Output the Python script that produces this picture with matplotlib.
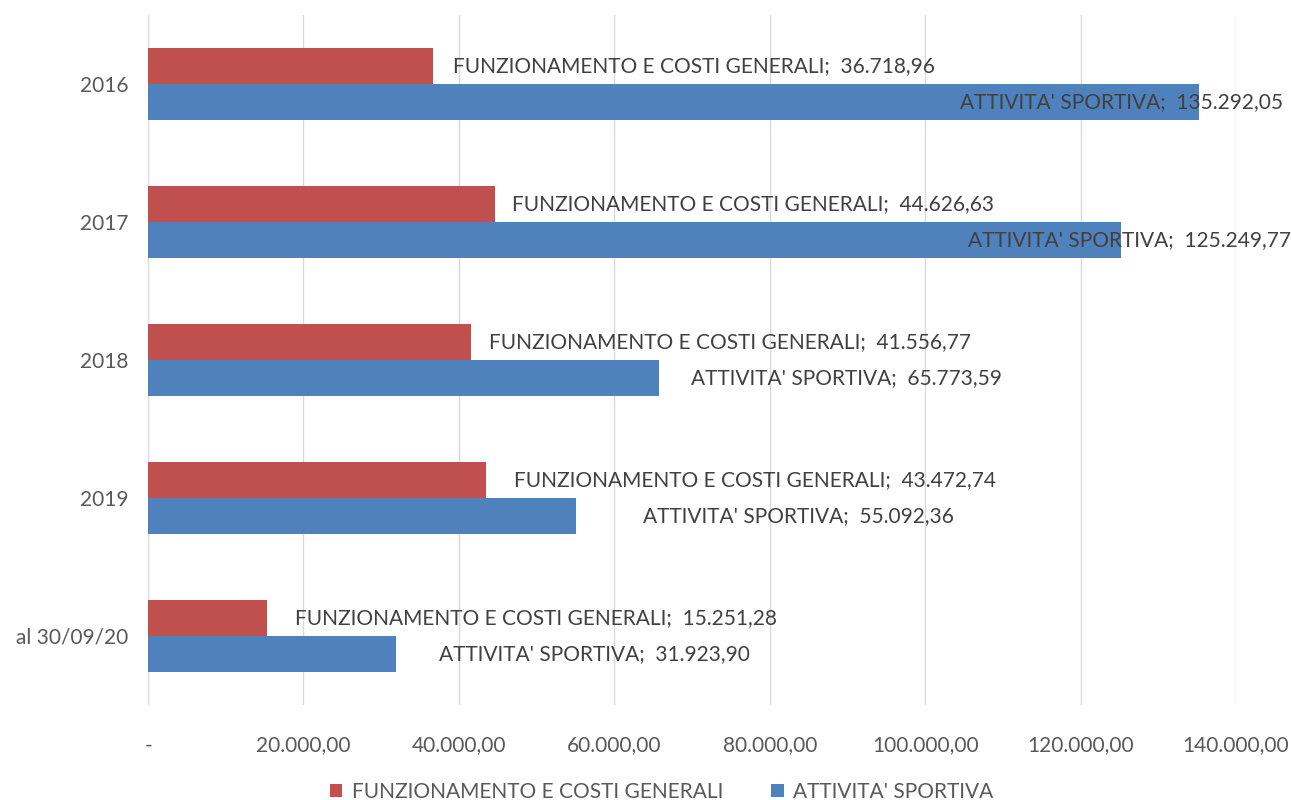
import matplotlib.pyplot as plt
import numpy as np

plt.rcParams['font.family'] = ['Lato', 'DejaVu Sans']

categories = ["2016", "2017", "2018", "2019", "al 30/09/20"]
funzionamento = [36718.96, 44626.63, 41556.77, 43472.74, 15251.28]
attivita = [135292.05, 125249.77, 65773.59, 55092.36, 31923.90]
funz_labels = ["36.718,96", "44.626,63", "41.556,77", "43.472,74", "15.251,28"]
att_labels = ["135.292,05", "125.249,77", "65.773,59", "55.092,36", "31.923,90"]
xticks = [0, 20000, 40000, 60000, 80000, 100000, 120000, 140000]
xticklabels = ["-", "20.000,00", "40.000,00", "60.000,00", "80.000,00",
               "100.000,00", "120.000,00", "140.000,00"]

# label offsets from bar end, in pixels (labels were moved by hand in the original)
funz_off = [20, 17, 18, 28, 28]
att_off = [-239, -153, 32, 67, 43]

RED = "#C0504D"
BLUE = "#4F81BD"
FS = 15

fig = plt.figure(figsize=(12.92, 8), dpi=100)
ax = fig.add_axes([0.1146, 0.11875, 0.8421, 0.8625])

y = np.arange(len(categories))
h = 0.26
ax.barh(y - h / 2, funzionamento, height=h, color=RED, label="FUNZIONAMENTO E COSTI GENERALI", zorder=3)
ax.barh(y + h / 2, attivita, height=h, color=BLUE, label="ATTIVITA' SPORTIVA", zorder=3)

for i in range(len(categories)):
    ax.annotate(f"FUNZIONAMENTO E COSTI GENERALI;  {funz_labels[i]}",
                (funzionamento[i], y[i] - h / 2), xytext=(funz_off[i] * 0.72, 0),
                textcoords="offset points", va="center", ha="left",
                fontsize=FS, color="#404040", zorder=4)
    ax.annotate(f"ATTIVITA' SPORTIVA;  {att_labels[i]}",
                (attivita[i], y[i] + h / 2), xytext=(att_off[i] * 0.72, 0),
                textcoords="offset points", va="center", ha="left",
                fontsize=FS, color="#404040", zorder=4)

ax.set_xlim(0, 140000)
ax.set_ylim(len(categories) - 0.5, -0.5)
ax.set_xticks(xticks)
ax.set_xticklabels(xticklabels, fontsize=FS, color="#595959")
ax.set_yticks(y)
ax.set_yticklabels(categories, fontsize=FS, color="#595959")
ax.tick_params(length=0, pad=14)
ax.tick_params(axis="x", pad=22)
ax.grid(axis="x", color="#D9D9D9", linewidth=1, zorder=0)
for s in ax.spines.values():
    s.set_visible(False)

fig.legend(loc="lower center", ncol=2, frameon=False, fontsize=FS,
           bbox_to_anchor=(0.512, -0.026), handlelength=0.6, handleheight=0.6,
           handletextpad=0.45, columnspacing=2.3, labelcolor="#595959")

plt.savefig("out.png", dpi=100)
